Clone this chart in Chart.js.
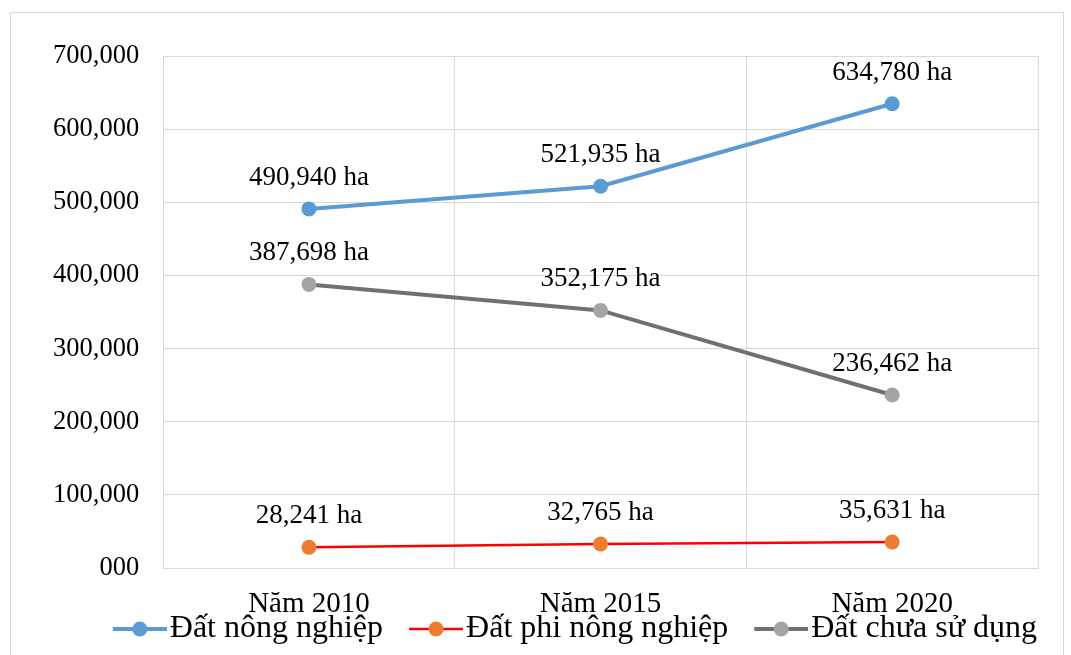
<!DOCTYPE html>
<html lang="vi">
<head>
<meta charset="utf-8">
<title>Biến động đất đai</title>
<script src="https://cdn.jsdelivr.net/npm/chart.js@4/dist/chart.umd.min.js"></script>
<style>
    html, body { margin: 0; padding: 0; background: #fff; }
    #frame {
        position: absolute; left: 10px; top: 12px;
        width: 1052px; height: 660px;
        border: 1px solid #d9d9d9;
    }
    #landChart { display: block; }
</style>
</head>
<body>
<div id="frame"><canvas id="landChart" width="1052" height="642"></canvas></div>
<script>
'use strict';

// số liệu (ha)
const YEARS = ['Năm 2010', 'Năm 2015', 'Năm 2020'];
const SERIES_NAMES = ['Đất nông nghiệp', 'Đất phi nông nghiệp', 'Đất chưa sử dụng'];
const DAT_NONG_NGHIEP = [490940, 521935, 634780];
const DAT_PHI_NONG_NGHIEP = [28241, 32765, 35631];
const DAT_CHUA_SU_DUNG = [387698, 352175, 236462];
const Y_MIN = 0;
const Y_MAX = 700000;
const Y_STEP = 100000;

(function () {
    const el = document.getElementById('landChart');
    if (!el || typeof Chart === 'undefined') return;

    const SERIF = "'Liberation Serif', 'Times New Roman', serif";
    const GRID = '#d9d9d9';

    Chart.defaults.font.family = SERIF;
    Chart.defaults.color = '#000';

    const STYLES = [
        { line: '#5b9bd5', marker: '#5b9bd5', width: 4 },
        { line: '#ff0000', marker: '#ed7d31', width: 2.5 },
        { line: '#707070', marker: '#a5a5a5', width: 4 },
    ];

    // ký hiệu chú giải: đoạn thẳng + chấm tròn như Excel
    function legendGlyph(st) {
        const c = document.createElement('canvas');
        c.width = 92;
        c.height = 18;
        const g = c.getContext('2d');
        g.strokeStyle = st.line;
        g.lineWidth = st.width;
        g.beginPath();
        g.moveTo(38, 9);
        g.lineTo(92, 9);
        g.stroke();
        g.fillStyle = st.marker;
        g.beginPath();
        g.arc(65, 9, 7.5, 0, Math.PI * 2);
        g.fill();
        return c;
    }
    const GLYPHS = STYLES.map(legendGlyph);

    const fmt = v => (v === 0 ? '000' : Number(v).toLocaleString('en-US'));

    const valueLabels = {
        id: 'valueLabels',
        afterDatasetsDraw(chart) {
            const ctx = chart.ctx;
            ctx.save();
            ctx.font = '27px ' + SERIF;
            ctx.fillStyle = '#000';
            ctx.textAlign = 'center';
            ctx.textBaseline = 'alphabetic';
            chart.data.datasets.forEach((ds, i) => {
                chart.getDatasetMeta(i).data.forEach((pt, j) => {
                    ctx.fillText(fmt(ds.data[j]) + ' ha', pt.x, pt.y - 24);
                });
            });
            ctx.restore();
        },
    };

    function makeDataset(label, data, st) {
        return {
            label,
            data,
            borderColor: st.line,
            backgroundColor: st.marker,
            borderWidth: st.width,
            pointRadius: 7.5,
            pointHoverRadius: 7.5,
            pointBackgroundColor: st.marker,
            pointBorderWidth: 0,
            tension: 0,
            fill: false,
        };
    }

    new Chart(el, {
        type: 'line',
        data: {
            labels: YEARS,
            datasets: [
                makeDataset(SERIES_NAMES[0], DAT_NONG_NGHIEP, STYLES[0]),
                makeDataset(SERIES_NAMES[1], DAT_PHI_NONG_NGHIEP, STYLES[1]),
                makeDataset(SERIES_NAMES[2], DAT_CHUA_SU_DUNG, STYLES[2]),
            ],
        },
        options: {
            responsive: false,
            animation: false,
            devicePixelRatio: 1,
            layout: { padding: { top: 43, left: 18, right: 25, bottom: 0 } },
            plugins: {
                tooltip: { enabled: false },
                legend: {
                    position: 'bottom',
                    align: 'end',
                    labels: {
                        usePointStyle: true,
                        pointStyleWidth: 66,
                        padding: 1,
                        color: '#000',
                        font: { size: 32, family: SERIF, lineHeight: 1 },
                        generateLabels(chart) {
                            const items = Chart.defaults.plugins.legend.labels.generateLabels(chart);
                            items.forEach((it, i) => { it.pointStyle = GLYPHS[i]; });
                            return items;
                        },
                    },
                },
            },
            scales: {
                x: {
                    offset: true,
                    grid: { offset: true, color: GRID, drawTicks: false },
                    border: { color: GRID },
                    ticks: { padding: 26, font: { size: 29, lineHeight: 0.69 }, color: '#000' },
                    // nhãn năm và chú giải nằm sát nhau như bản gốc
                    afterFit(scale) { scale.height = 44; },
                },
                y: {
                    min: Y_MIN,
                    max: Y_MAX,
                    grid: { color: GRID, drawTicks: false },
                    border: { color: GRID },
                    ticks: {
                        stepSize: Y_STEP,
                        padding: 24,
                        font: { size: 26.5 },
                        color: '#000',
                        callback: fmt,
                    },
                },
            },
        },
        plugins: [valueLabels],
    });
})();
</script>
</body>
</html>
